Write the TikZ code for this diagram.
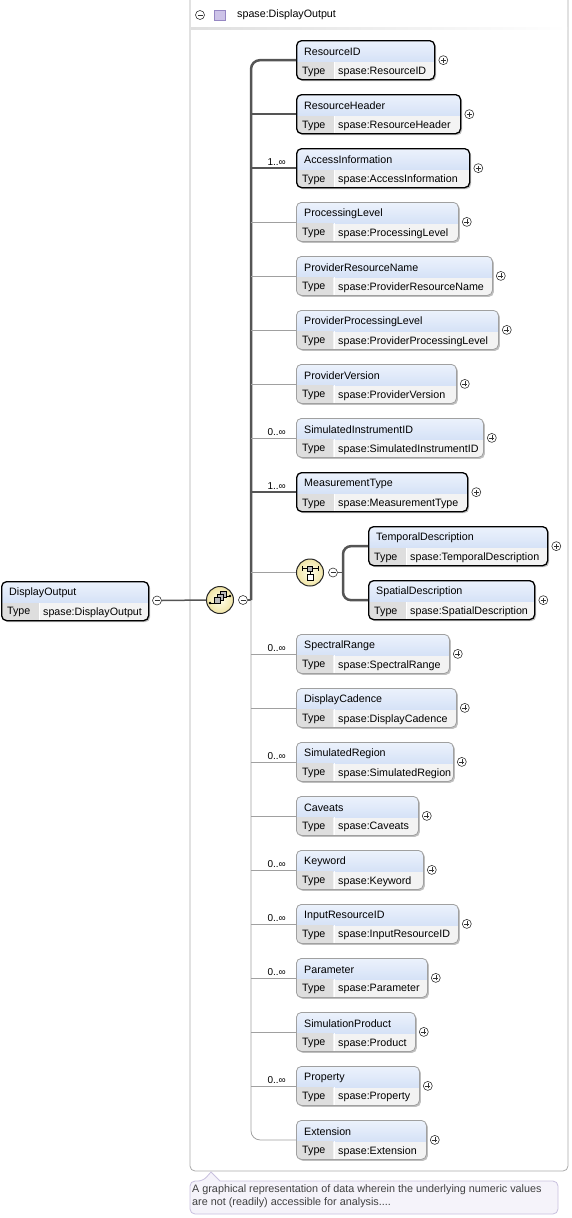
\documentclass[tikz,border=0pt]{standalone}
\usepackage{fontspec}
\setmainfont{Liberation Sans}
\usetikzlibrary{shadows, calc}
\definecolor{headtop}{RGB}{236,242,252}
\definecolor{headbot}{RGB}{194,212,242}
\definecolor{typecell}{RGB}{222,222,222}
\definecolor{typeval}{RGB}{243,243,243}
\definecolor{optgray}{RGB}{160,160,160}
\definecolor{linedark}{RGB}{85,85,85}
\definecolor{framegray}{RGB}{170,170,170}
\definecolor{notefill}{RGB}{245,243,250}
\definecolor{noteline}{RGB}{200,192,222}
\definecolor{compfill}{RGB}{205,195,232}
\definecolor{compline}{RGB}{150,135,195}
\definecolor{iconin}{RGB}{255,255,235}
\definecolor{iconout}{RGB}{240,228,165}

\begin{document}
\begin{tikzpicture}[
        x=1pt, y=-1pt,
        font=\fontsize{10.7}{12}\selectfont,
        elem/.style={rectangle, rounded corners=5pt, fill=typeval, anchor=north west,
            minimum height=39pt, inner sep=0pt,
            drop shadow={shadow xshift=1.5pt, shadow yshift=-1.5pt, fill=black, opacity=0.25},
            path picture={
                \shade[sharp corners, top color=headtop, bottom color=headbot]
                    (path picture bounding box.north west) rectangle ([yshift=-21pt]path picture bounding box.north east);
                \fill[sharp corners, typecell]
                    ([yshift=-21pt]path picture bounding box.north west) rectangle ([xshift=37pt]path picture bounding box.south west);
                \draw[sharp corners, white, line width=0.8pt]
                    ([xshift=37.5pt,yshift=-21pt]path picture bounding box.north west) -- ([xshift=37.5pt]path picture bounding box.south west);
            }},
        headtext/.style={anchor=west, inner sep=0pt},
        typetext/.style={anchor=west, inner sep=0pt},
        mult/.style={anchor=south east, inner sep=0pt, font=\fontsize{10}{11}\selectfont},
        plusbtn/.style={circle, draw=black!80, fill=white, minimum size=9pt, inner sep=0pt, line width=0.6pt,
            path picture={
                \draw[line width=0.6pt] ([xshift=-2.5pt]path picture bounding box.center) -- ([xshift=2.5pt]path picture bounding box.center)
                    ([yshift=-2.5pt]path picture bounding box.center) -- ([yshift=2.5pt]path picture bounding box.center);
            }},
        minusbtn/.style={circle, draw=black!80, fill=white, minimum size=9pt, inner sep=0pt, line width=0.6pt,
            path picture={
                \draw[line width=0.6pt] ([xshift=-2.5pt]path picture bounding box.center) -- ([xshift=2.5pt]path picture bounding box.center);
            }},
        thickline/.style={linedark, line width=2.5pt, rounded corners=9pt},
        thinline/.style={optgray, line width=0.8pt, rounded corners=9pt},
        icon/.style={circle, draw=black!85, line width=1pt, minimum size=27pt, inner sep=0pt,
            inner color=iconin, outer color=iconout}
    ]
        \useasboundingbox (0,0) rectangle (571,1218);

        % frame of the complex type
        \draw[framegray, line width=0.8pt, rounded corners=5pt] (190,-3) -- (190,1171) -- (568,1171) -- (568,-3);
        \shade[left color=gray!25, right color=white] (191,27) rectangle (567,29);
        \node[minusbtn] (hdrminus) at (200,15) {};
        \node[draw=compline, fill=compfill, minimum width=11pt, minimum height=10pt, inner sep=0pt] (hdrbox) at (220,15) {};
        \node[anchor=west, inner sep=0pt] (hdrtext) at (237,15) {spase:DisplayOutput};

        % root element
        \node[elem, draw=black, line width=1.3pt, minimum width=147pt] (dout) at (1,581) {};
        \node[headtext] (dout-h) at ([xshift=8pt,yshift=-11.5pt]dout.north west) {DisplayOutput};
        \node[typetext] (dout-t) at ([xshift=6pt,yshift=9pt]dout.south west) {Type};
        \node[typetext] (dout-v) at ([xshift=42pt,yshift=9pt]dout.south west) {spase:DisplayOutput};
        \node[minusbtn] (doutminus) at (157,600.5) {};

        % sequence and choice
        \node[icon] (seq) at (220,600) {};
        \node[minusbtn] (seqminus) at (243,600) {};
        \node[icon] (choice) at (310,572.5) {};
        \node[minusbtn] (choiceminus) at (333,572.5) {};
        \begin{scope}[shift={(seq.center)}, line width=0.6pt]
            \draw (-10,3) -- (-5,3);
            \fill (-10,3) circle (1.3);
            \draw[fill=gray!55] (0,-3) rectangle (6,-9);
            \draw[fill=gray!55] (-3,0) rectangle (3,-6);
            \draw[fill=gray!55] (-6,3) rectangle (0,-3);
            \draw (6,-4) -- (10,-4);
            \fill (10,-4) circle (1.3);
        \end{scope}
        \begin{scope}[shift={(choice.center)}, line width=0.6pt]
            \draw (-8,-4) -- (8,-4) (-8,-6.5) -- (-8,-1.5) (8,-6.5) -- (8,-1.5);
            \draw[fill=gray!55] (-2.5,-6.5) rectangle (2.5,-1.5);
            \draw (0,-1.5) -- (0,1.5);
            \draw[fill=white] (-3,1.5) rectangle (3,8);
        \end{scope}

        % child elements
        \foreach \nm/\lx/\ty/\rx/\lab/\typ/\bc/\bw in {
            rid/296/40/434/ResourceID/spase:ResourceID/black/1.3,
            rhd/296/94/460/ResourceHeader/spase:ResourceHeader/black/1.3,
            acc/296/148/469/AccessInformation/spase:AccessInformation/black/1.3,
            plev/296/202/458/ProcessingLevel/spase:ProcessingLevel/optgray/0.8,
            prn/296/256/492/ProviderResourceName/spase:ProviderResourceName/optgray/0.8,
            ppl/296/310/498/ProviderProcessingLevel/spase:ProviderProcessingLevel/optgray/0.8,
            pver/296/364/456/ProviderVersion/spase:ProviderVersion/optgray/0.8,
            sinst/296/418/483/SimulatedInstrumentID/spase:SimulatedInstrumentID/optgray/0.8,
            mtype/296/472/467/MeasurementType/spase:MeasurementType/black/1.3,
            tdesc/368/526/547/TemporalDescription/spase:TemporalDescription/black/1.3,
            sdesc/368/580/534/SpatialDescription/spase:SpatialDescription/black/1.3,
            specr/296/634/449/SpectralRange/spase:SpectralRange/optgray/0.8,
            dcad/296/688/456/DisplayCadence/spase:DisplayCadence/optgray/0.8,
            sreg/296/742/453/SimulatedRegion/spase:SimulatedRegion/optgray/0.8,
            cav/296/796/418/Caveats/spase:Caveats/optgray/0.8,
            kwd/296/850/423/Keyword/spase:Keyword/optgray/0.8,
            irid/296/904/458/InputResourceID/spase:InputResourceID/optgray/0.8,
            par/296/958/427/Parameter/spase:Parameter/optgray/0.8,
            sprod/296/1012/415/SimulationProduct/spase:Product/optgray/0.8,
            prop/296/1066/419/Property/spase:Property/optgray/0.8,
            ext/296/1120/426/Extension/spase:Extension/optgray/0.8} {
            \node[elem, draw=\bc, line width=\bw pt, minimum width={(\rx-\lx)*1pt}] (\nm) at (\lx,\ty) {};
            \node[headtext] (\nm-h) at ([xshift=8pt,yshift=-11.5pt]\nm.north west) {\lab};
            \node[typetext] (\nm-t) at ([xshift=6pt,yshift=8.5pt]\nm.south west) {Type};
            \node[typetext] (\nm-v) at ([xshift=42pt,yshift=8.5pt]\nm.south west) {\typ};
            \node[plusbtn] (\nm-p) at ([xshift=8pt]\nm.east) {};
        }

        % occurrences
        \foreach \nm/\m in {acc/1, sinst/0, mtype/1, specr/0, sreg/0, kwd/0, irid/0, par/0, prop/0}
            \node[mult] (\nm-m) at ([xshift=-10pt,yshift=2pt]\nm.west) {\m..∞};

        % connectors
        \coordinate (spine) at (251,600);
        \coordinate (cspine) at (343,572.5);
        \draw[linedark, line width=1.5pt] (doutminus.east) -- (seq.west);
        \draw[linedark, line width=1.5pt] (seqminus.east) -- (spine);
        \draw[thickline] (rid.west) -| (spine);
        \draw[thinline] (spine) |- (ext.west);
        \foreach \nm in {rhd, acc, mtype}
            \draw[thickline] (\nm.west) -- (\nm.west -| spine);
        \foreach \nm in {plev, prn, ppl, pver, sinst, specr, dcad, sreg, cav, kwd, irid, par, sprod, prop}
            \draw[thinline] (\nm.west) -- (\nm.west -| spine);
        \draw[thinline] (choice.west) -- (choice.west -| spine);
        \draw[linedark, line width=1pt] (choiceminus.east) -- (cspine);
        \draw[thickline, rounded corners=8pt] (tdesc.west) -| (cspine) |- (sdesc.west);

        % annotation
        \draw[noteline, fill=notefill, line width=0.8pt, rounded corners=5pt]
            (190,1181) -- (203,1181) [sharp corners] -- (211,1172) -- (220,1181) [rounded corners=5pt] -- (558,1181) -- (558,1214) -- (190,1214) -- cycle;
        \node[anchor=north west, align=left, inner sep=0pt, font=\fontsize{10.8}{13}\selectfont, text=black!75] (note) at (192,1184)
            {A graphical representation of data wherein the underlying numeric values\\are not (readily) accessible for analysis....};

    \end{tikzpicture}
\end{document}
